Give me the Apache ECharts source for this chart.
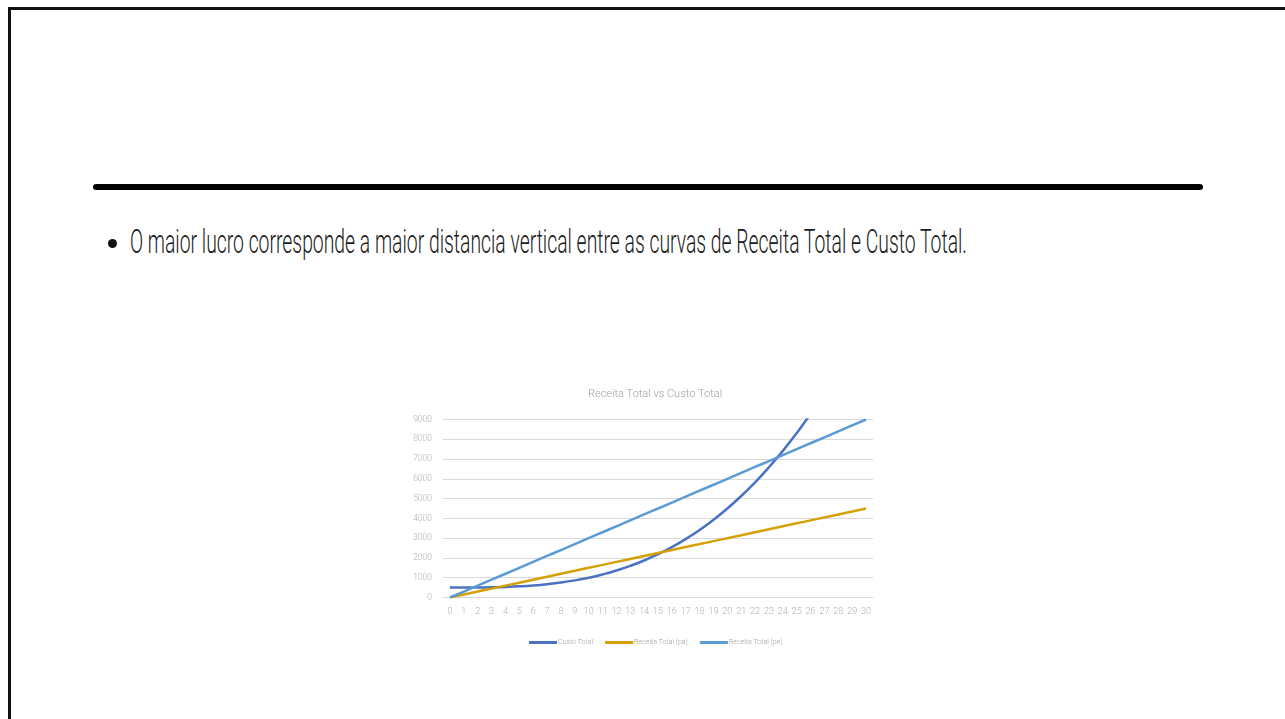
<!DOCTYPE html>
<html>
<head>
<meta charset="utf-8">
<script src="https://cdn.jsdelivr.net/npm/echarts@6/dist/echarts.min.js"></script>
<style>
  html, body { margin: 0; padding: 0; background: #ffffff; width: 1285px; height: 719px; overflow: hidden; }
  #frame { position: absolute; left: 8px; top: 7px; width: 1400px; height: 800px; border-left: 3px solid #111; border-top: 3px solid #111; box-sizing: border-box; }
  #rule { position: absolute; left: 93px; top: 184px; width: 1110px; height: 6px; background: #000; border-radius: 3px; }
  #dot { position: absolute; left: 108px; top: 239px; width: 9px; height: 9px; background: #111; border-radius: 50%; }
  #bullet { position: absolute; left: 130px; top: 221px; font-family: Roboto, "Open Sans", sans-serif; font-size: 34px; line-height: 40px; color: #1a1a1a; white-space: nowrap; transform-origin: 0 0; font-weight: 300; }
  #chart { position: absolute; left: 0; top: 0; width: 1285px; height: 719px; }
</style>
</head>
<body>
<div id="frame"></div>
<div id="rule"></div>
<div id="dot"></div>
<div id="bullet">O maior lucro corresponde a maior distancia vertical entre as curvas de Receita Total e Custo Total.</div>
<div id="chart"></div>
<script>
// Data
var categories = ['0','1','2','3','4','5','6','7','8','9','10','11','12','13','14','15','16','17','18','19','20','21','22','23','24','25','26','27','28','29','30'];
var custoTotal = [500, 500, 504, 514, 532, 563, 608, 672, 756, 865, 1000, 1166, 1364, 1599, 1872, 2188, 2548, 2957, 3416, 3930, 4500, 5131, 5824, 6584, 7412, 8313, 9288, 10342, 11476, 12695, 14000];
var receitaPa = [0, 150, 300, 450, 600, 750, 900, 1050, 1200, 1350, 1500, 1650, 1800, 1950, 2100, 2250, 2400, 2550, 2700, 2850, 3000, 3150, 3300, 3450, 3600, 3750, 3900, 4050, 4200, 4350, 4500];
var receitaPe = [0, 300, 600, 900, 1200, 1500, 1800, 2100, 2400, 2700, 3000, 3300, 3600, 3900, 4200, 4500, 4800, 5100, 5400, 5700, 6000, 6300, 6600, 6900, 7200, 7500, 7800, 8100, 8400, 8700, 9000];
var seriesNames = ['Custo Total', 'Receita Total (pa)', 'Receita Total (pe)'];
var chartTitle = 'Receita Total vs Custo Total';

// fit bullet text width
var b = document.getElementById('bullet');
var w = b.getBoundingClientRect().width;
b.style.transform = 'scaleX(' + (837 / w) + ')';

var font = 'Roboto, "Open Sans", sans-serif';
var chart = echarts.init(document.getElementById('chart'), null, { renderer: 'canvas' });
chart.setOption({
  animation: false,
  backgroundColor: 'transparent',
  title: {
    text: chartTitle,
    left: 583, top: 384,
    textStyle: { fontFamily: font, fontSize: 11, fontWeight: 300, color: '#a0a0a0' }
  },
  legend: {
    data: seriesNames,
    left: 524, top: 634,
    icon: 'rect', itemWidth: 28, itemHeight: 3, itemGap: 12,
    textStyle: { fontFamily: font, fontSize: 7, fontWeight: 300, color: '#a0a0a0', padding: [0, 0, 0, -4] }
  },
  grid: { left: 443, right: 412, top: 419.5, bottom: 121.5, containLabel: false },
  xAxis: {
    type: 'category', data: categories, boundaryGap: true,
    axisLine: { lineStyle: { color: '#d9d9d9' } },
    axisTick: { show: false },
    axisLabel: { fontFamily: font, fontSize: 9, fontWeight: 300, color: '#b0b0b0', margin: 10, interval: 0 }
  },
  yAxis: {
    type: 'value', min: 0, max: 9000, interval: 1000,
    axisLine: { show: false }, axisTick: { show: false },
    splitLine: { lineStyle: { color: '#d9d9d9', width: 1 } },
    axisLabel: { fontFamily: font, fontSize: 8.5, fontWeight: 300, color: '#b0b0b0', margin: 11, formatter: function (v) { return String(v); } }
  },
  series: [
    { name: seriesNames[0], type: 'line', data: custoTotal, smooth: true, symbol: 'none', clip: true, lineStyle: { color: '#4a72c4', width: 2.5 }, itemStyle: { color: '#4a72c4' } },
    { name: seriesNames[1], type: 'line', data: receitaPa, smooth: true, symbol: 'none', clip: true, lineStyle: { color: '#d4a003', width: 2.5 }, itemStyle: { color: '#d4a003' } },
    { name: seriesNames[2], type: 'line', data: receitaPe, smooth: true, symbol: 'none', clip: true, lineStyle: { color: '#5b9bd5', width: 2.5 }, itemStyle: { color: '#5b9bd5' } }
  ]
});
</script>
</body>
</html>
